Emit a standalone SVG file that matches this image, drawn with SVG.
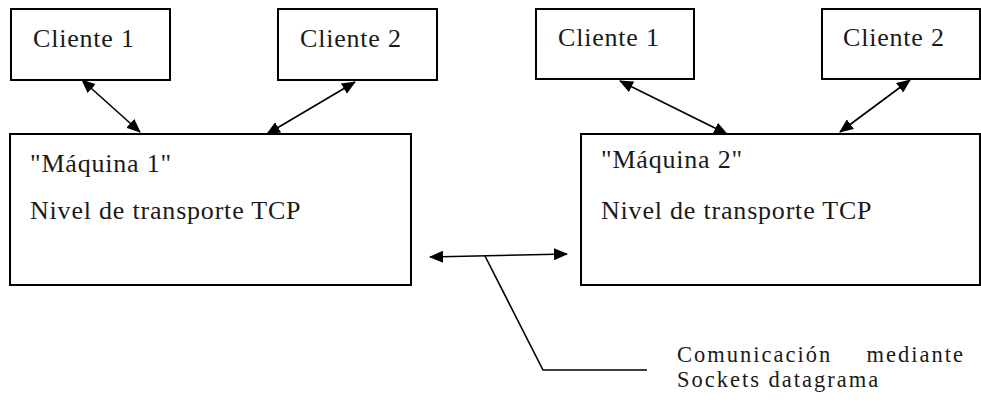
<svg xmlns="http://www.w3.org/2000/svg" width="981" height="410" viewBox="0 0 981 410">
<style>
  .box { fill: #fff; stroke: #000; stroke-width: 2; }
  .t { font-family: "Liberation Serif", "Times New Roman", serif; font-size: 26px; fill: #1a1a1a; letter-spacing: 0.8px; }
  .n { font-family: "Liberation Serif", "Times New Roman", serif; font-size: 22.5px; fill: #1a1a1a; letter-spacing: 2px; }
  .c { stroke: #000; stroke-width: 1.6; fill: none; }
  .a { marker-start: url(#ah); marker-end: url(#ah); }
</style>
<defs>
  <marker id="ah" viewBox="0 0 14 12" refX="13" refY="6" markerWidth="14" markerHeight="12" markerUnits="userSpaceOnUse" orient="auto-start-reverse">
    <path d="M0,0 L14,6 L0,12 Z" fill="#000"/>
  </marker>
</defs>
<rect width="981" height="410" fill="#fff"/>
<g id="cliente1-a"><rect class="box" x="11" y="9" width="159" height="71"/><text class="t" x="33" y="47">Cliente 1</text></g>
<g id="cliente2-a"><rect class="box" x="278" y="9" width="159" height="71"/><text class="t" x="300" y="47">Cliente 2</text></g>
<g id="maquina1"><rect class="box" x="10" y="134" width="401" height="151"/><text class="t" x="30" y="172">"Máquina 1"</text><text class="t" x="30" y="219">Nivel de transporte TCP</text></g>
<g id="cliente1-b"><rect class="box" x="536" y="9" width="158" height="70"/><text class="t" x="558" y="46">Cliente 1</text></g>
<g id="cliente2-b"><rect class="box" x="822" y="9" width="158" height="70"/><text class="t" x="843" y="46">Cliente 2</text></g>
<g id="maquina2"><rect class="box" x="581" y="134" width="399" height="151"/><text class="t" x="601" y="168">"Máquina 2"</text><text class="t" x="601" y="219">Nivel de transporte TCP</text></g>
<g id="nota"><text class="n" x="677" y="362">Comunicación</text><text class="n" x="965" y="362" text-anchor="end" letter-spacing="2">mediante</text><text class="n" x="677" y="387">Sockets datagrama</text></g>
<g id="connectors">
  <line class="c a" x1="82" y1="80" x2="140" y2="132"/>
  <line class="c a" x1="355" y1="82" x2="267" y2="134"/>
  <line class="c a" x1="620" y1="81" x2="727" y2="134"/>
  <line class="c a" x1="910" y1="80" x2="840" y2="132"/>
  <line class="c a" x1="430" y1="257" x2="567" y2="254"/>
  <polyline class="c" points="485,256 543,370 647,370"/>
</g>
</svg>
